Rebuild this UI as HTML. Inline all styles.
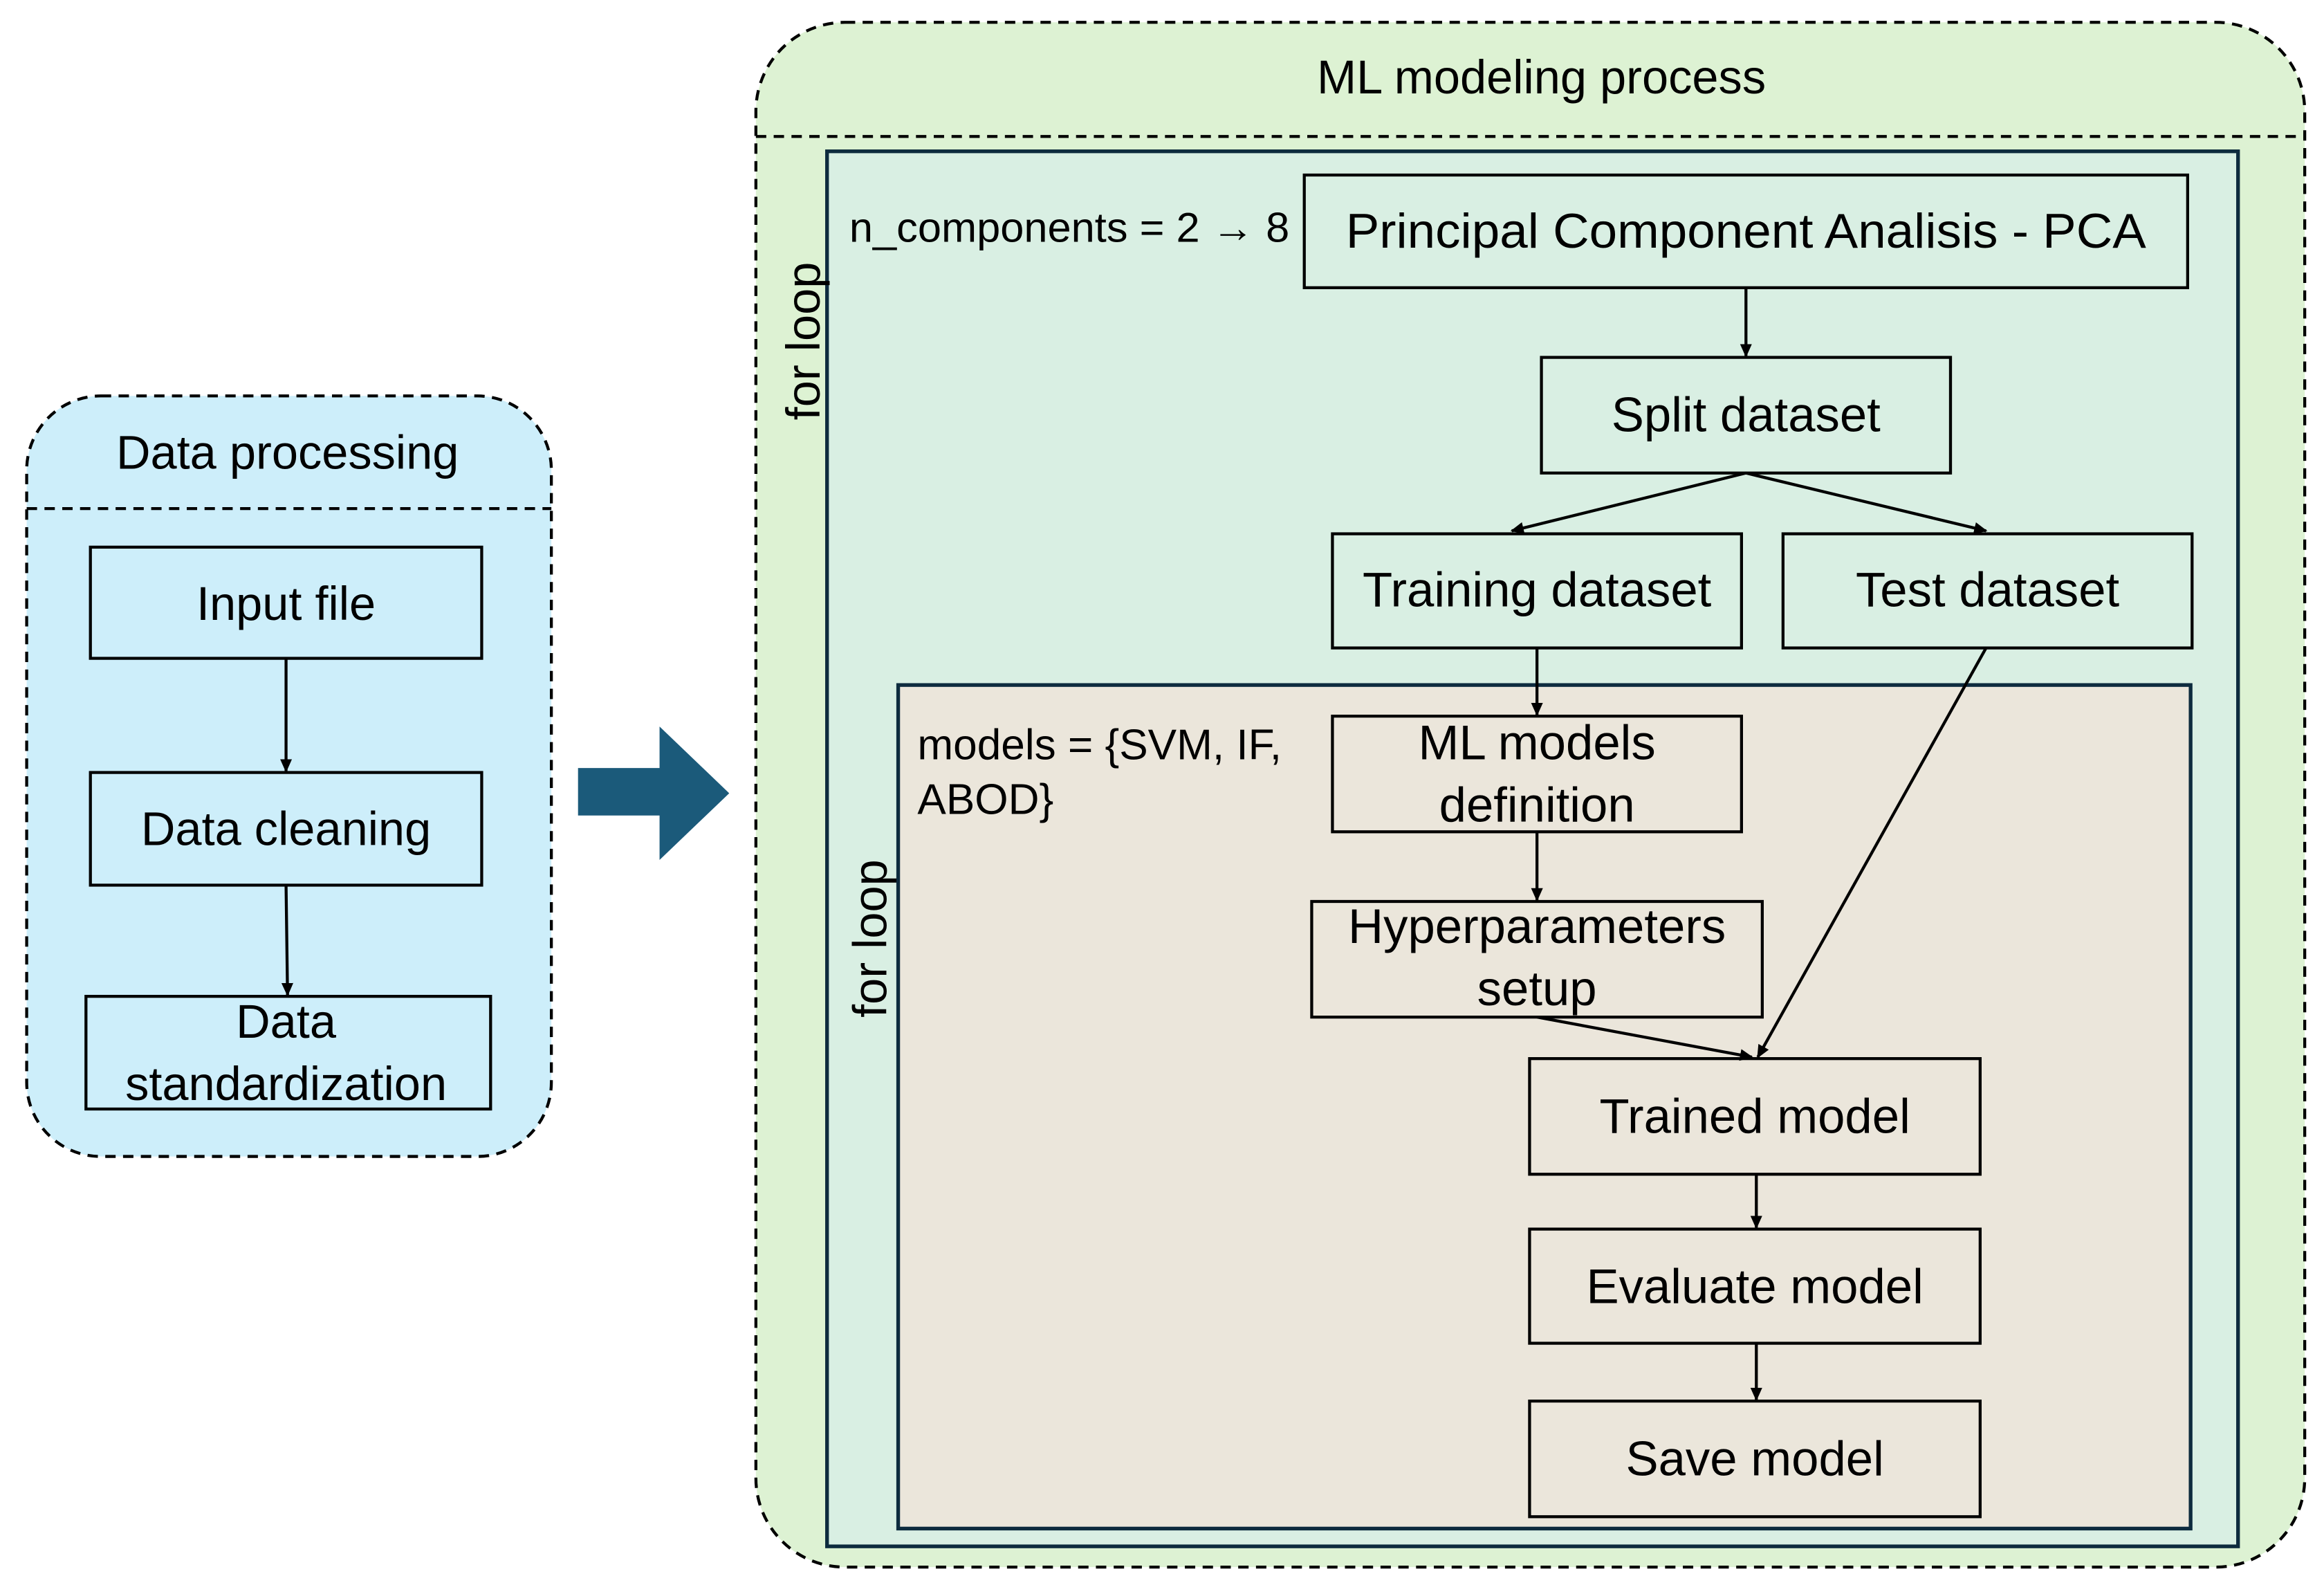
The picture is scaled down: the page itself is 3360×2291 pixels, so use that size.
<!DOCTYPE html>
<html><head><meta charset="utf-8"><style>
html,body{margin:0;padding:0;background:#fff;width:3360px;height:2291px;overflow:hidden}
svg{display:block}
text{font-family:"Liberation Sans",sans-serif;fill:#000}
</style></head><body>
<svg width="3360" height="2291" viewBox="0 0 1568 1069" xmlns="http://www.w3.org/2000/svg">
<defs><marker id="a" markerWidth="10" markerHeight="10" refX="8" refY="5" orient="auto" markerUnits="userSpaceOnUse"><path d="M0,1 L9,5 L0,9 z" fill="#000"/></marker></defs>
<rect x="18" y="267" width="354" height="513" rx="50" fill="#cdeefa" stroke="#000" stroke-width="2" stroke-dasharray="7,5"/>
<line x1="18" y1="343" x2="372" y2="343" stroke="#000" stroke-width="2" stroke-dasharray="7,5"/>
<text x="194" y="316" font-size="32" text-anchor="middle">Data processing</text>
<g fill="#cdeefa" stroke="#000" stroke-width="2">
<rect x="61" y="369" width="264" height="75"/>
<rect x="61" y="521" width="264" height="76"/>
<rect x="58" y="672" width="273" height="76"/>
</g>
<g font-size="32" text-anchor="middle">
<text x="193" y="418">Input file</text>
<text x="193" y="570">Data cleaning</text>
<text x="193" y="700">Data</text>
<text x="193" y="742">standardization</text>
</g>
<g stroke="#000" stroke-width="2" marker-end="url(#a)">
<line x1="193" y1="444" x2="193" y2="520"/>
<line x1="193" y1="597" x2="194" y2="671"/>
</g>
<path d="M390,518 L445,518 L445,490 L492,535 L445,580 L445,550 L390,550 z" fill="#1b5a7a"/>
<rect x="510" y="15" width="1045" height="1042" rx="60" fill="#ddf2d3" stroke="#000" stroke-width="2" stroke-dasharray="7,5"/>
<line x1="510" y1="92" x2="1555" y2="92" stroke="#000" stroke-width="2" stroke-dasharray="7,5"/>
<text x="1040" y="63" font-size="32" text-anchor="middle">ML modeling process</text>
<rect x="558" y="102" width="952" height="941" fill="#d9efe3" stroke="#0d2b3e" stroke-width="2.5"/>
<text transform="translate(553,230) rotate(-90)" font-size="32" text-anchor="middle">for loop</text>
<text x="573" y="163" font-size="28" textLength="297" lengthAdjust="spacingAndGlyphs">n_components = 2 → 8</text>
<rect x="606" y="462" width="872" height="569" fill="#ebe6db" stroke="#0d2b3e" stroke-width="2.5"/>
<text transform="translate(598,633) rotate(-90)" font-size="32" text-anchor="middle">for loop</text>
<text x="619" y="512" font-size="29">models = {SVM, IF,</text>
<text x="619" y="549" font-size="29">ABOD}</text>
<g stroke="#000" stroke-width="2" fill="none">
<rect x="880" y="118" width="596" height="76"/>
<rect x="1040" y="241" width="276" height="78"/>
<rect x="899" y="360" width="276" height="77"/>
<rect x="1203" y="360" width="276" height="77"/>
<rect x="899" y="483" width="276" height="78"/>
<rect x="885" y="608" width="304" height="78"/>
<rect x="1032" y="714" width="304" height="78"/>
<rect x="1032" y="829" width="304" height="77"/>
<rect x="1032" y="945" width="304" height="78"/>
</g>
<g font-size="33" text-anchor="middle">
<text x="1178" y="167" textLength="540" lengthAdjust="spacingAndGlyphs">Principal Component Analisis - PCA</text>
<text x="1178" y="291">Split dataset</text>
<text x="1037" y="409">Training dataset</text>
<text x="1341" y="409">Test dataset</text>
<text x="1037" y="512">ML models</text>
<text x="1037" y="554">definition</text>
<text x="1037" y="636">Hyperparameters</text>
<text x="1037" y="678">setup</text>
<text x="1184" y="764">Trained model</text>
<text x="1184" y="879">Evaluate model</text>
<text x="1184" y="995">Save model</text>
</g>
<g stroke="#000" stroke-width="2" marker-end="url(#a)">
<line x1="1178" y1="194" x2="1178" y2="240"/>
<line x1="1178" y1="319" x2="1020" y2="358"/>
<line x1="1178" y1="319" x2="1340" y2="358"/>
<line x1="1037" y1="437" x2="1037" y2="482"/>
<line x1="1037" y1="561" x2="1037" y2="607"/>
<line x1="1037" y1="686" x2="1182" y2="713"/>
<line x1="1340" y1="437" x2="1186" y2="713"/>
<line x1="1185" y1="792" x2="1185" y2="828"/>
<line x1="1185" y1="906" x2="1185" y2="944"/>
</g>
</svg>
</body></html>
